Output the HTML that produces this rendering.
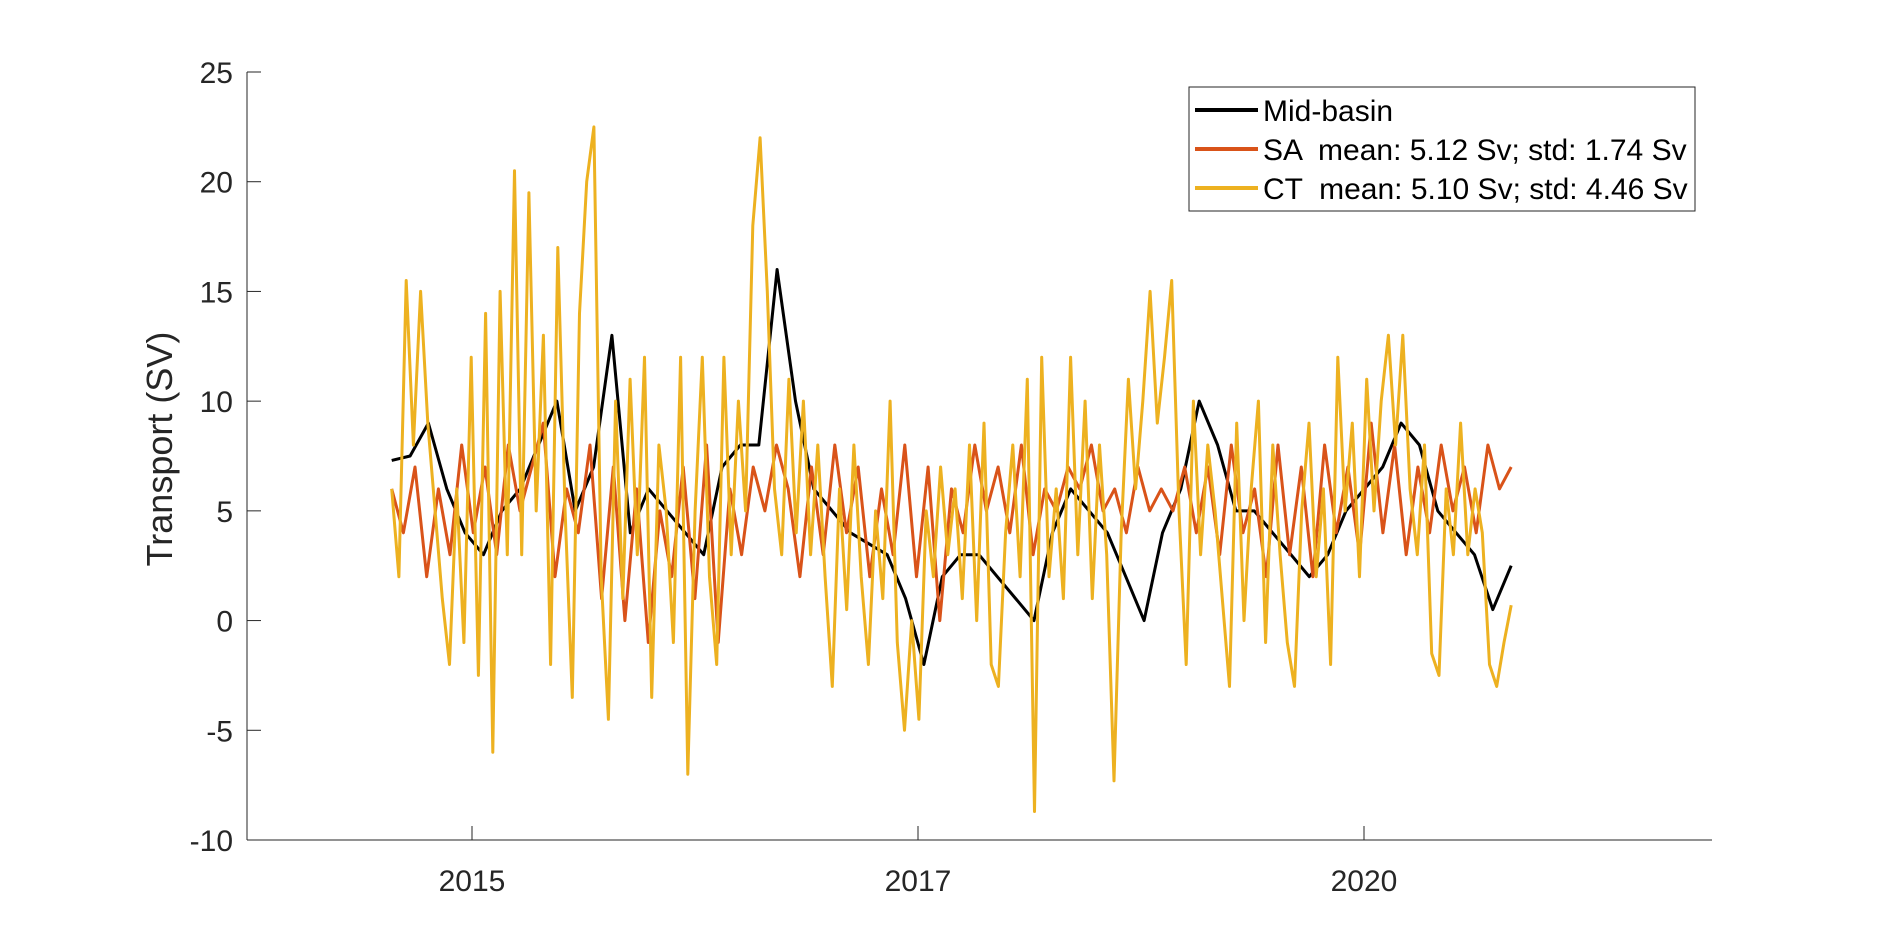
<!DOCTYPE html>
<html><head><meta charset="utf-8"><style>
html,body{margin:0;padding:0;background:#fff;}
svg{display:block;font-family:"Liberation Sans",Arial,sans-serif;}
</style></head>
<body>
<svg id="chart" width="1890" height="945" viewBox="0 0 1890 945">
<rect width="1890" height="945" fill="#fff"/>
<g id="series"></g>
<g id="axes"></g>
<text x="0" y="0" transform="translate(172,449) rotate(-90)" text-anchor="middle" font-size="36" fill="#262626">Transport (SV)</text>
<g>
<rect x="1189" y="87" width="506" height="124" fill="#fff" stroke="#262626" stroke-width="1"/>
<line x1="1195" y1="110" x2="1258" y2="110" stroke="#000" stroke-width="4"/>
<text x="1263" y="121" font-size="30" fill="#000">Mid-basin</text>
<line x1="1195" y1="149" x2="1258" y2="149" stroke="#D95319" stroke-width="4"/>
<text x="1263" y="160" font-size="30" fill="#000" xml:space="preserve">SA  mean: 5.12 Sv; std: 1.74 Sv</text>
<line x1="1195" y1="188" x2="1258" y2="188" stroke="#EDB120" stroke-width="4"/>
<text x="1263" y="199" font-size="30" fill="#000" xml:space="preserve">CT  mean: 5.10 Sv; std: 4.46 Sv</text>
</g>
</svg>
<script>
const xTickLabels = ["2015","2017","2020"];
const xTickPos = [0,1,2];
const yTicks = [-10,-5,0,5,10,15,20,25];
const tStart = -0.18, tEnd = 2.33;
const midBasin = [7.3,7.5,9,6,4,3,5,6,8,10,5,7,13,4,6,5,4,3,7,8,8,16,10,6,5,4,3.5,3,1,-2,2,3,3,2,1,0,4,6,5,4,2,0,4,6,10,8,5,5,4,3,2,3,5,6,7,9,8,5,4,3,0.5,2.5];
const saValues = [6,4,7,2,6,3,8,4,7,3,8,5,7,9,2,6,4,8,1,7,0,6,-1,5,2,7,1,8,-1,6,3,7,5,8,6,2,7,3,8,4,7,2,6,3,8,2,7,0,6,4,8,5,7,4,8,3,6,5,7,6,8,5,6,4,7,5,6,5,7,4,7,3,8,4,6,2,8,3,7,2,8,4,7,3,9,4,8,3,7,4,8,5,7,4,8,6,7];
const ctValues = [6,2,15.5,8,15,9,5,1,-2,6,-1,12,-2.5,14,-6,15,3,20.5,3,19.5,5,13,-2,17,5,-3.5,14,20,22.5,2,-4.5,10,1,11,3,12,-3.5,8,5,-1,12,-7,5,12,2,-2,12,3,10,5,18,22,15,6,3,11,4,10,3,8,2,-3,6,0.5,8,2,-2,5,1,10,-1,-5,0,-4.5,5,2,7,3,6,1,8,0,9,-2,-3,4,8,2,11,-8.7,12,2,6,1,12,3,10,1,8,3,-7.3,4,11,6,10,15,9,12,15.5,5,-2,10,3,8,5,1,-3,9,0,6,10,-1,8,3,-1,-3,5,9,2,6,-2,12,5,9,2,11,5,10,13,8,13,6,3,8,-1.5,-2.5,6,3,9,3,6,4,-2,-3,-1,0.7];

const L=247,R=1712,T=72,B=840;
const xu0=472, xuStep=446;
const X=u=>xu0+u*xuStep;
const Y=v=>B-(v+10)/35*(B-T);
const NS="http://www.w3.org/2000/svg";
const ser=document.getElementById('series'), ax=document.getElementById('axes');
function mk(tag,attrs,parent){const e=document.createElementNS(NS,tag);for(const k in attrs)e.setAttribute(k,attrs[k]);parent.appendChild(e);return e;}
function drawLine(vals,color,w,name){
  const n=vals.length;
  const d=vals.map((v,i)=>(i?'L':'M')+X(tStart+(tEnd-tStart)*i/(n-1)).toFixed(1)+','+Y(v).toFixed(1)).join('');
  const p=mk('path',{d:d,fill:'none',stroke:color,'stroke-width':w,'stroke-linejoin':'round'},ser);
  
  
}
drawLine(midBasin,'#000',3,'mid-basin-line');
drawLine(saValues,'#D95319',3,'sa-line');
drawLine(ctValues,'#EDB120',3,'ct-line');
const xa=mk('line',{x1:L,y1:B,x2:R,y2:B,stroke:'#262626','stroke-width':1},ax);


const ya=mk('line',{x1:L,y1:T,x2:L,y2:B,stroke:'#262626','stroke-width':1},ax);


yTicks.forEach(v=>{
  const tk=mk('line',{x1:L,y1:Y(v),x2:L+14,y2:Y(v),stroke:'#262626','stroke-width':1},ax);
  
  
  const t=mk('text',{x:L-14,y:Y(v)+11,'text-anchor':'end','font-size':30,fill:'#262626'},ax);
  t.textContent=v;
  
  
});
xTickPos.forEach((u,i)=>{
  const tk=mk('line',{x1:X(u),y1:B,x2:X(u),y2:B-14,stroke:'#262626','stroke-width':1},ax);
  
  
  const t=mk('text',{x:X(u),y:B+51,'text-anchor':'middle','font-size':30,fill:'#262626'},ax);
  t.textContent=xTickLabels[i];
  
  
});
</script>
</body></html>
